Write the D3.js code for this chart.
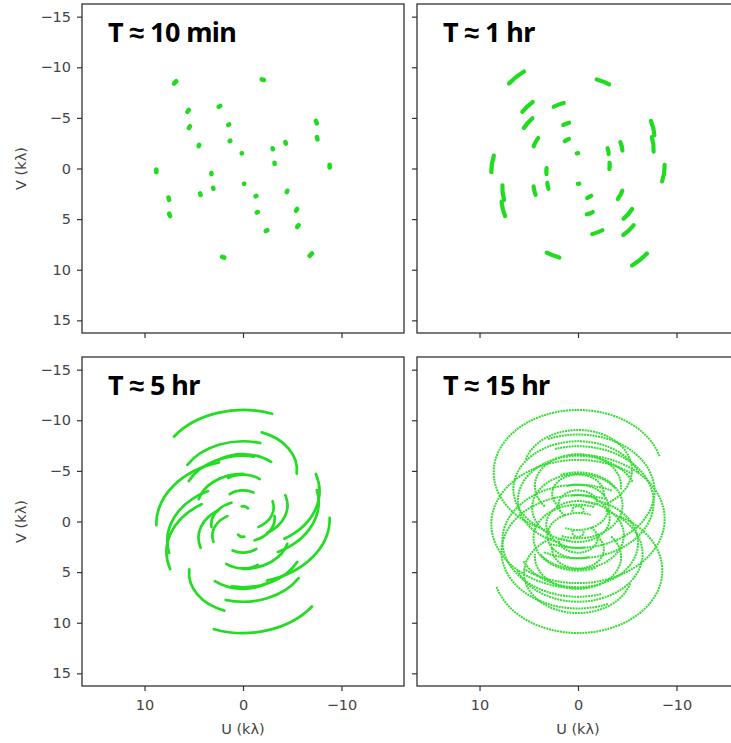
<!DOCTYPE html>
<html>
<head>
<meta charset="utf-8">
<script src="https://cdn.jsdelivr.net/npm/d3@7"></script>
<style>
  body { margin: 0; background: #fff; }
  .tick text { font-family: "DejaVu Sans", sans-serif; font-size: 14.5px; fill: #444; }
  .tick line { stroke: #333; stroke-width: 1.2; }
</style>
</head>
<body>
<svg id="chart"></svg>
<script>
// uv point of every antenna pair in the first snapshot (kλ)
var startU = [7.0, -1.9, 5.65, 2.47, 5.5, 1.5, -7.4, -7.5, 4.5, 1.35, -3.0, -4.3, 0.13, -8.8, 3.2];
var startV = [-8.4, -8.8, -5.6, -6.1, -4.0, -4.3, -4.7, -3.1, -2.2, -2.7, -2.0, -2.6, -1.5, -0.37, 0.56];
// v of the centre of each pair's ellipse (kλ)
var centreV = [-4.85, -5.1, -3.2, -3.5, -2.1, -2.75, -3.0, -1.9, -1.35, -1.65, -1.4, -1.6, -1.1, -0.25, 0.3];
var axisRatio = 0.72;   // v / u semi-axis of the tracks

var panelTitles = ["T ≈ 10 min", "T ≈ 1 hr", "T ≈ 5 hr", "T ≈ 15 hr"];
var panelStart = [0, 0, 0, -6.35];   // hours, relative to first snapshot
var panelHours = [1 / 6, 1, 5, 15];
var uTicks = [10, 0, -10];
var vTicks = [-15, -10, -5, 0, 5, 10, 15];

var width = 731, height = 743;
var colX = [82, 417], rowY = [4, 357];
var pw = 322, ph = 329;
var lineW = [4.6, 4.2, 2.7, 2];
var green = ["#1fdc1f", "#1fdc1f", "#22dd22", "#35dc35"];

var svg = d3.select('#chart')
    .attr('width', width)
    .attr('height', height);

// one ellipse per pair and one for its conjugate (-u, -v)
var tracks = [];
startU.forEach(function (u1, k) {
  var v0 = centreV[k];
  var w = (v0 - startV[k]) / axisRatio;
  var a = Math.hypot(u1, w), psi0 = Math.atan2(u1, w);
  tracks.push({a: a, v0: v0, psi0: psi0});
  tracks.push({a: a, v0: -v0, psi0: psi0 + Math.PI});
});

var deg = Math.PI / 180;

function trackPath(t, x, y, h0, hours) {
  var s0 = t.psi0 - h0 * 15 * deg;
  var s1 = s0 - hours * 15 * deg;
  var b = t.a * axisRatio;
  var rx = Math.abs(x(t.a) - x(0)), ry = Math.abs(y(b) - y(0));
  var p0 = [x(t.a * Math.sin(s0)), y(t.v0 - b * Math.cos(s0))];
  var p1 = [x(t.a * Math.sin(s1)), y(t.v0 - b * Math.cos(s1))];
  var large = hours * 15 > 180 ? 1 : 0;
  return 'M' + p0.join(',') + 'A' + rx + ',' + ry + ' 0 ' + large + ' 1 ' + p1.join(',');
}

var fmt = d3.format('d');

panelTitles.forEach(function (title, i) {
  var col = i % 2, row = Math.floor(i / 2);
  var x = d3.scaleLinear().domain([16.35, -16.35]).range([0, pw]);
  var y = d3.scaleLinear().domain([-16.25, 16.25]).range([0, ph]);

  var g = svg.append('g')
      .attr('transform', 'translate(' + colX[col] + ',' + rowY[row] + ')');

  g.append('clipPath').attr('id', 'clip' + i)
    .append('rect').attr('width', pw).attr('height', ph);

  g.append('g')
      .attr('clip-path', 'url(#clip' + i + ')')
    .selectAll('path')
    .data(tracks)
    .enter().append('path')
      .attr('d', function (t) { return trackPath(t, x, y, panelStart[i], panelHours[i]); })
      .attr('fill', 'none')
      .attr('stroke', green[i])
      .attr('stroke-width', lineW[i])
      .attr('stroke-linecap', i == 3 ? 'butt' : 'round')
      .attr('stroke-dasharray', i == 3 ? '2,0.8' : null);

  var xAxis = g.append('g')
      .attr('transform', 'translate(0,' + ph + ')')
      .call(d3.axisBottom(x).tickValues(uTicks).tickSize(5).tickPadding(9)
            .tickFormat(row == 1 ? fmt : function () { return ''; }));
  xAxis.select('.domain').remove();

  var yAxis = g.append('g')
      .call(d3.axisLeft(y).tickValues(vTicks).tickSize(5).tickPadding(6)
            .tickFormat(col == 0 ? fmt : function () { return ''; }));
  yAxis.select('.domain').remove();

  g.append('rect')
      .attr('width', pw).attr('height', ph)
      .attr('fill', 'none')
      .attr('stroke', '#333')
      .attr('stroke-width', 1.3);

  g.append('text')
      .attr('x', 26).attr('y', 38)
      .attr('font-family', '"Noto Sans", sans-serif')
      .attr('font-weight', 700)
      .attr('font-size', 27)
      .attr('letter-spacing', -0.6)
      .attr('fill', '#000')
      .text(title);

  if (row == 1) {
    g.append('text')
        .attr('x', x(0)).attr('y', 376.5)
        .attr('text-anchor', 'middle')
        .attr('font-family', '"DejaVu Sans", sans-serif')
        .attr('font-size', 14.5)
        .attr('fill', '#444')
        .text('U (kλ)');
  }
  if (col == 0) {
    g.append('text')
        .attr('transform', 'translate(-56,' + y(0) + ') rotate(-90)')
        .attr('text-anchor', 'middle')
        .attr('font-family', '"DejaVu Sans", sans-serif')
        .attr('font-size', 14.5)
        .attr('fill', '#444')
        .text('V (kλ)');
  }
});
</script>
</body>
</html>
